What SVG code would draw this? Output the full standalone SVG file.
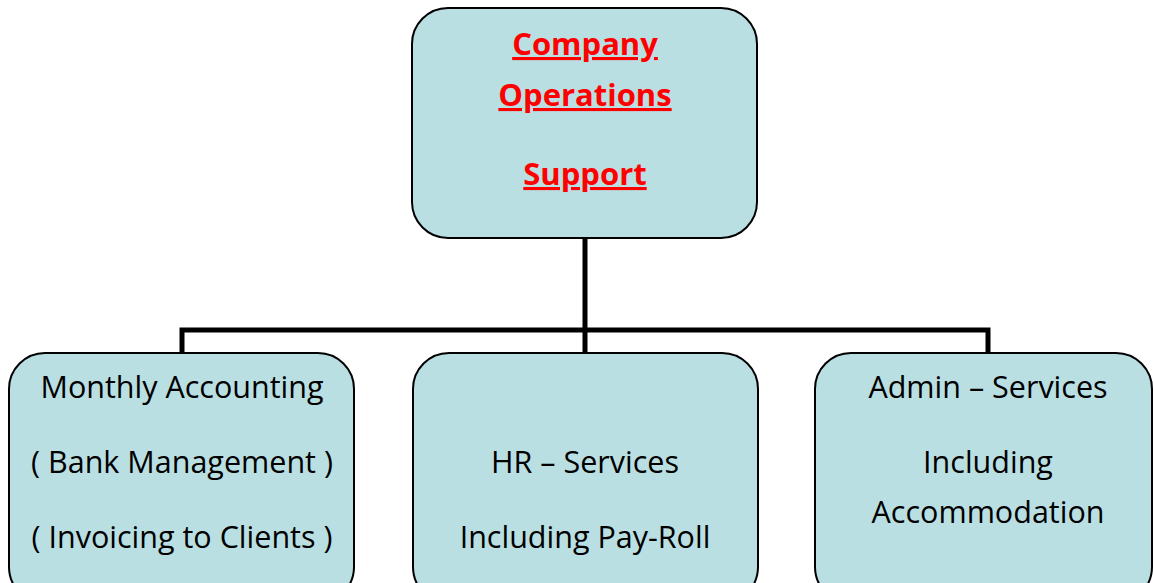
<svg xmlns="http://www.w3.org/2000/svg" width="1153" height="583" viewBox="0 0 1153 583">
<style>
.box{fill:#b9dfe3;stroke:#000;stroke-width:2}
.t{font-family:"Open Sans",Lato,sans-serif;font-size:30.5px;fill:#000;text-anchor:middle}
.h{font-family:"Open Sans",Lato,sans-serif;font-size:31px;font-weight:bold;fill:#ff0000;text-anchor:middle;text-decoration:underline}
.c{fill:none;stroke:#000;stroke-width:5}
</style>
<rect width="1153" height="583" fill="#fff"/>
<g id="connectors">
<path class="c" d="M585 238 V330 M182 353 V330 H988 V353 M585 330 V353"/>
</g>
<g id="top">
<rect class="box" x="412" y="8" width="345" height="230" rx="36"/>
<text class="h" x="585" y="55">Company</text>
<text class="h" x="585" y="106">Operations</text>
<text class="h" x="585" y="185">Support</text>
</g>
<g id="accounting">
<rect class="box" x="9" y="353" width="345" height="250" rx="36"/>
<text class="t" x="182" y="398">Monthly Accounting</text>
<text class="t" x="182" y="473">( Bank Management )</text>
<text class="t" x="182" y="548">( Invoicing to Clients )</text>
</g>
<g id="hr">
<rect class="box" x="413" y="353" width="345" height="250" rx="36"/>
<text class="t" x="585" y="473">HR – Services</text>
<text class="t" x="585" y="548">Including Pay-Roll</text>
</g>
<g id="admin">
<rect class="box" x="815" y="353" width="337" height="250" rx="36"/>
<text class="t" x="988" y="398">Admin – Services</text>
<text class="t" x="988" y="473">Including</text>
<text class="t" x="988" y="523">Accommodation</text>
</g>
</svg>
